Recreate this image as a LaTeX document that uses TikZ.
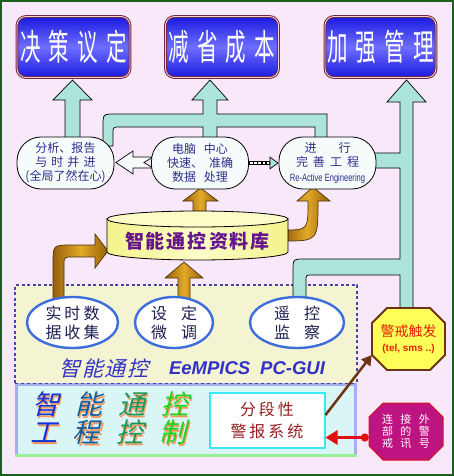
\documentclass[tikz,border=0pt]{standalone}
\usepackage{fontspec}
\setmainfont{Noto Sans CJK SC}
\newfontfamily\tallfont{Noto Sans CJK SC}[FakeStretch=0.57]
\newfontfamily\slantfont{Noto Sans CJK SC}[FakeSlant=0.25]
\newfontfamily\latinfont{Liberation Sans}
\newfontfamily\narrowfont{Liberation Sans}[FakeStretch=0.72]
\usetikzlibrary{shapes.geometric,arrows.meta}

\definecolor{bgpink}{RGB}{249,232,249}
\definecolor{framegreen}{RGB}{30,95,30}
\definecolor{goalblue}{RGB}{25,25,225}
\definecolor{goallight}{RGB}{110,110,255}
\definecolor{goaledge}{RGB}{110,40,70}
\definecolor{flowteal}{RGB}{172,228,218}
\definecolor{golddark}{RGB}{150,95,10}
\definecolor{goldlight}{RGB}{225,170,40}
\definecolor{goldedge}{RGB}{80,50,10}
\definecolor{paneltext}{RGB}{45,45,140}
\definecolor{panelfill}{RGB}{246,252,252}
\definecolor{dbyellow}{RGB}{243,243,140}
\definecolor{dblight}{RGB}{252,252,200}
\definecolor{dbtext}{RGB}{100,20,140}
\definecolor{guiyellow}{RGB}{244,244,210}
\definecolor{guidots}{RGB}{70,70,170}
\definecolor{guiblue}{RGB}{50,50,200}
\definecolor{stationblue}{RGB}{60,110,220}
\definecolor{stationtext}{RGB}{30,30,80}
\definecolor{ctrlcyan}{RGB}{218,245,245}
\definecolor{ctrledge}{RGB}{165,175,240}
\definecolor{ctrlgreen}{RGB}{150,240,150}
\definecolor{shade}{RGB}{245,150,90}
\definecolor{wcyan}{RGB}{60,230,240}
\definecolor{wred}{RGB}{150,30,30}
\definecolor{trigyellow}{RGB}{255,255,90}
\definecolor{trigedge}{RGB}{110,50,20}
\definecolor{trigred}{RGB}{230,30,0}
\definecolor{extmagenta}{RGB}{190,20,130}
\definecolor{alertred}{RGB}{225,15,15}
\definecolor{brandA}{RGB}{20,50,210}
\definecolor{brandB}{RGB}{20,95,160}
\definecolor{brandC}{RGB}{30,150,90}
\definecolor{brandD}{RGB}{30,210,30}

\newcommand\shchar[2]{\makebox[0pt][l]{\hspace{1.8pt}\raisebox{-1.5pt}{\textcolor{shade}{#2}}}\textcolor{#1}{#2}}
% octagon: style, centre x, centre y, half width, half height, cut
\newcommand\octagon[6]{\draw[#1] ({#2-#4+#6},{#3-#5}) -- ({#2+#4-#6},{#3-#5}) -- ({#2+#4},{#3-#5+#6})
  -- ({#2+#4},{#3+#5-#6}) -- ({#2+#4-#6},{#3+#5}) -- ({#2-#4+#6},{#3+#5}) -- ({#2-#4},{#3+#5-#6})
  -- ({#2-#4},{#3-#5+#6}) -- cycle;}

\begin{document}
\begin{tikzpicture}[x=1pt,y=-1pt,
  goal/.style={rounded corners=9pt, draw=goaledge, line width=1pt, double=pink!70,
    double distance=0.8pt, top color=goalblue, bottom color=goalblue, middle color=goallight,
    minimum width=113pt, minimum height=61pt, inner sep=0pt, text=white,
    font=\tallfont\fontsize{36}{36}\selectfont},
  panel/.style={draw, line width=0.8pt, fill=panelfill, rounded corners=24pt,
    minimum width=97pt, minimum height=52pt, inner sep=0pt, align=center, text=paneltext,
    font=\fontsize{12}{14}\selectfont},
  station/.style={ellipse, draw=stationblue, line width=2.4pt, fill=white,
    minimum height=51pt, inner sep=0pt, align=center, text=stationtext,
    font=\fontsize{16}{19}\selectfont},
  flow/.style={fill=flowteal, draw=black, line width=0.7pt},
  feed/.style={left color=golddark, right color=golddark, middle color=goldlight,
    draw=goldedge, line width=0.7pt},
  brand/.style={font=\slantfont\fontsize{27}{27}\selectfont}]
  \useasboundingbox (0,0) rectangle (454,476);
  \draw[framegreen, line width=2pt, fill=bgpink] (1,1) rectangle (453,475);

  \fill[guiyellow] (15,285) rectangle (357,383);
  \draw[guidots, line width=2.4pt, dash pattern=on 3pt off 2.5pt] (15,383) -- (15,285) -- (357,285) -- (357,383);
  \fill[ctrlcyan] (15,383) rectangle (357,457);
  \draw[ctrledge, line width=3pt] (16.5,457) -- (16.5,384.5) -- (355.5,384.5) -- (355.5,457);
  \draw[ctrlgreen, line width=3pt] (15,455.5) -- (357,455.5);
  \draw[guidots, line width=0.6pt, dashed] (15,383) -- (357,383);

  \draw[flow] (65,142) -- (65,100) -- (53,100) -- (72.5,80) -- (92,100) -- (80,100) -- (80,142) -- cycle;
  \draw[flow] (103,146) -- (103,126) .. controls (103,114) .. (115,114) -- (203,114) -- (203,100)
    -- (192,100) -- (210,80) -- (228,100) -- (217,100) -- (217,114) -- (327,114) -- (327,142)
    -- (315,142) -- (315,127) -- (217,127) -- (217,142) -- (203,142) -- (203,127) -- (120,127)
    .. controls (113,127) .. (113,134) -- (113,146) -- cycle;
  \draw[flow] (370,153) -- (400,153) -- (400,102) -- (387,102) -- (406.5,80) -- (426,102)
    -- (413,102) -- (413,312) -- (400,312) -- (400,275) -- (312,275) .. controls (306,275) .. (306,281)
    -- (306,302) -- (293,302) -- (293,271) .. controls (293,259) .. (305,259) -- (400,259)
    -- (400,168) -- (370,168) -- cycle;
  \draw[flow, fill=panelfill] (116,162.5) -- (133,151) -- (133,157) -- (153,157) -- (144,162.5)
    -- (153,168) -- (133,168) -- (133,174) -- cycle;

  \draw[feed] (193,216) -- (193,201) -- (183,201) -- (200.5,188) -- (218,201) -- (206,201) -- (206,216) -- cycle;
  \draw[feed] (284,230) .. controls (308,230) .. (308,201) -- (297,201) -- (313,187) -- (330,201)
    -- (318,201) .. controls (318,241) .. (284,241) -- cycle;
  \draw[feed] (53,300) -- (53,263) .. controls (53,245) .. (72,245) -- (95,245) -- (95,234)
    -- (108,251) -- (95,268) -- (95,257) -- (73,257) .. controls (64,257) .. (64,266) -- (64,300) -- cycle;
  \draw[feed] (178,300) -- (178,278) -- (165,278) -- (184,262) -- (203,278) -- (190,278) -- (190,300) -- cycle;

  \draw[left color=dbyellow, right color=dbyellow, middle color=dblight, line width=0.8pt]
    (107,219) -- (107,252) arc[start angle=180, end angle=0, x radius=90.5, y radius=8] -- (288,219) -- cycle;
  \draw[fill=dblight, line width=0.8pt] (197.5,219) ellipse [x radius=90.5, y radius=8];
  \node[text=dbtext, font=\bfseries\fontsize{19}{19}\selectfont] (db) at (197.5,241)
    {智\hspace{2pt}能\hspace{2pt}通\hspace{2pt}控\hspace{2pt}资\hspace{2pt}料\hspace{2pt}库};

  \node[goal] (decide) at (73.5,47) {决\hspace{8pt}策\hspace{8pt}议\hspace{8pt}定};
  \node[goal] (save) at (222,47) {减\hspace{8pt}省\hspace{8pt}成\hspace{8pt}本};
  \node[goal, minimum width=111pt] (manage) at (380.5,47) {加\hspace{8pt}强\hspace{8pt}管\hspace{8pt}理};

  \node[panel] (report) at (65.5,163) {分析、报告\\与\hspace{4pt}时\hspace{4pt}并\hspace{4pt}进\\(全局了然在心)};
  \node[panel] (hub) at (200,163) {电脑\hspace{8pt}中心\\快速、\hspace{6pt}准确\\数据\hspace{8pt}处理};
  \node[panel] (rae) at (327.5,163) {进\hspace{22pt}行\\完\hspace{5pt}善\hspace{5pt}工\hspace{5pt}程\\[1pt]
    {\narrowfont\fontsize{10.5}{12}\selectfont Re-Active Engineering}};

  \draw[line width=4.5pt] (hub.east) -- ([xshift=-8pt]rae.west);
  \draw[white, line width=2.4pt, dash pattern=on 2.6pt off 1.6pt] ([xshift=1pt]hub.east) -- ([xshift=-9pt]rae.west);
  \draw[line width=0.7pt, -{Triangle[length=9pt, width=13pt, fill=flowteal]}] ([xshift=-10pt]rae.west) -- (rae.west);

  \node[station, minimum width=91pt] (collect) at (72.5,322.5) {实\hspace{3pt}时\hspace{3pt}数\\据\hspace{3pt}收\hspace{3pt}集};
  \node[station, minimum width=78pt] (tune) at (174,322.5) {设\hspace{14pt}定\\微\hspace{14pt}调};
  \node[station, minimum width=94pt] (watch) at (297,322.5) {遥\hspace{14pt}控\\监\hspace{14pt}察};

  \node[text=guiblue, font=\slantfont\fontsize{21}{21}\selectfont] (guicn) at (104,368)
    {智\hspace{1.5pt}能\hspace{1.5pt}通\hspace{1.5pt}控};
  \node[text=guiblue, font=\latinfont\bfseries\itshape\fontsize{18.5}{18.5}\selectfont] (guien) at (247,368)
    {EeMPICS\hspace{10pt}PC-GUI};

  \node[brand] (brandtop) at (110,405)
    {\shchar{brandA}{智}\hspace{16pt}\shchar{brandB}{能}\hspace{16pt}\shchar{brandC}{通}\hspace{16pt}\shchar{brandD}{控}};
  \node[brand] (brandbot) at (108,433)
    {\shchar{brandA}{工}\hspace{16pt}\shchar{brandB}{程}\hspace{16pt}\shchar{brandC}{控}\hspace{16pt}\shchar{brandD}{制}};

  \node[draw=wcyan, line width=2pt, fill=white, minimum width=115pt, minimum height=55pt,
    align=center, text=wred, font=\fontsize{16}{22}\selectfont] (wbox) at (267,420)
    {分\hspace{3pt}段\hspace{3pt}性\\警\hspace{3pt}报\hspace{3pt}系\hspace{3pt}统};

  \octagon{draw=trigedge, line width=1.8pt, fill=trigyellow}{408.5}{339}{36.5}{31}{15}
  \node[minimum width=73pt, minimum height=62pt, inner sep=0pt, align=center, text=trigred] (trigger) at (408.5,339)
    {{\fontsize{14}{16}\selectfont 警戒触发}\\[3pt]{\latinfont\bfseries\fontsize{10}{12}\selectfont (tel, sms ..)}};
  \octagon{draw=alertred, line width=1pt, fill=extmagenta}{406}{431.5}{37}{28.5}{14}
  \node[minimum width=74pt, minimum height=57pt, inner sep=0pt, align=center, text=white,
    font=\fontsize{11}{12}\selectfont] (ext) at (406,431.5)
    {连\hspace{7.5pt}接\hspace{7.5pt}外\\部\hspace{7.5pt}的\hspace{7.5pt}警\\戒\hspace{7.5pt}讯\hspace{7.5pt}号};

  \coordinate (sirenin) at ([yshift=-6pt]ext.west);
  \draw[alertred, line width=3pt, {Circle[length=8pt]}-{Triangle[length=12pt, width=14pt]}]
    (sirenin) -- (sirenin -| wbox.east);
  \draw[trigedge, line width=2.5pt, -{Triangle[length=10pt, width=11pt]}] ([yshift=5pt]wbox.east)
    -- ([yshift=-16pt]trigger.west);
\end{tikzpicture}
\end{document}
